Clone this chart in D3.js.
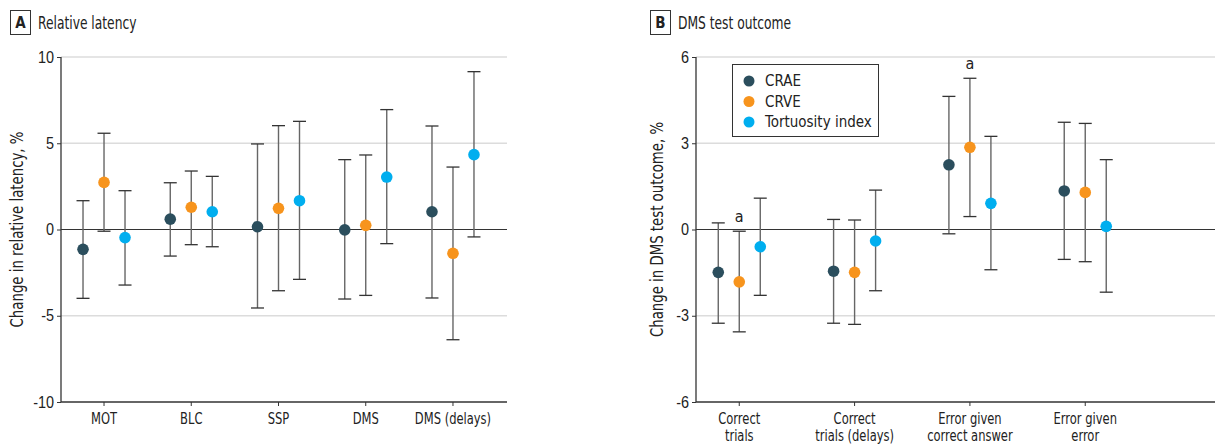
<!DOCTYPE html>
<html>
<head>
<meta charset="utf-8">
<script src="https://cdn.jsdelivr.net/npm/d3@7"></script>
<style>
	body { margin: 0; background: #fff; }
	svg { display: block; font-family: "DejaVu Sans Condensed", "Liberation Sans Narrow", "Roboto", sans-serif; }
</style>
</head>
<body>
<svg id="chart" width="1215" height="445"></svg>
<script>
// series names and colours
const seriesNames = ['CRAE', 'CRVE', 'Tortuosity index']
const seriesColors = ['#2b4e5d', '#f7941d', '#00aeef']

// Panel A: relative latency
const latencyCategories = ['MOT', 'BLC', 'SSP', 'DMS', 'DMS (delays)']
const latencyEstimate = [
	[-1.15, 0.6, 0.16, -0.02, 1.03],   // CRAE
	[2.73, 1.29, 1.23, 0.24, -1.38],   // CRVE
	[-0.47, 1.03, 1.67, 3.04, 4.34]    // Tortuosity index
]
const latencyLower = [
	[-3.99, -1.54, -4.55, -4.03, -3.97],
	[-0.1, -0.88, -3.55, -3.82, -6.39],
	[-3.22, -1.0, -2.89, -0.82, -0.43]
]
const latencyUpper = [
	[1.67, 2.71, 4.96, 4.05, 6.0],
	[5.58, 3.39, 6.02, 4.32, 3.62],
	[2.25, 3.08, 6.27, 6.95, 9.15]
]
const latencyTicks = [-10, -5, 0, 5, 10]

// Panel B: DMS test outcome
const dmsCategories = [
	['Correct', 'trials'],
	['Correct', 'trials (delays)'],
	['Error given', 'correct answer'],
	['Error given', 'error']
]
const dmsEstimate = [
	[-1.49, -1.45, 2.25, 1.34],
	[-1.82, -1.49, 2.86, 1.29],
	[-0.6, -0.4, 0.91, 0.11]
]
const dmsLower = [
	[-3.26, -3.26, -0.15, -1.04],
	[-3.56, -3.3, 0.45, -1.12],
	[-2.29, -2.13, -1.4, -2.18]
]
const dmsUpper = [
	[0.23, 0.35, 4.63, 3.73],
	[-0.06, 0.33, 5.26, 3.69],
	[1.09, 1.37, 3.24, 2.43]
]
const dmsTicks = [-6, -3, 0, 3, 6]
// significance markers: [category index, series index]
const dmsSignificant = [[0, 1], [2, 1]]

const svg = d3.select('#chart')

// squeeze text horizontally to mimic the narrow journal font
function condense(sel, factor) {
	sel.each(function () {
		const len = this.getComputedTextLength()
		if (len > 0) {
			d3.select(this)
				.attr('textLength', len * factor)
				.attr('lengthAdjust', 'spacingAndGlyphs')
		}
	})
}

function drawPanel(opts) {
	const g = svg.append('g')

	// panel letter + title
	g.append('rect')
		.attr('x', opts.boxX + 0.5).attr('y', 10.5)
		.attr('width', 20).attr('height', 24)
		.attr('fill', 'none').attr('stroke', '#333').attr('stroke-width', 1)
	g.append('text')
		.attr('x', opts.boxX + 10.5).attr('y', 28)
		.attr('text-anchor', 'middle')
		.attr('font-size', 15).attr('font-weight', 'bold').attr('fill', '#222')
		.text(opts.letter)
	g.append('text')
		.attr('x', opts.boxX + 28).attr('y', 29)
		.attr('font-size', 17.5).attr('fill', '#222')
		.text(opts.title)
		.call(condense, 0.78)

	const y = d3.scaleLinear().domain(opts.domain).range([402, 57])
	const x = d3.scaleBand()
		.domain(d3.range(opts.categories.length))
		.range(opts.bandRange)
	const offset = d3.scalePoint().domain([0, 1, 2]).range([-21, 21])

	// gridlines
	g.selectAll('.grid')
		.data(opts.ticks.filter(t => t !== 0 && t !== opts.domain[0]))
		.enter().append('line')
		.attr('x1', opts.left).attr('x2', opts.right)
		.attr('y1', d => y(d)).attr('y2', d => y(d))
		.attr('stroke', '#dcdcdc').attr('stroke-width', 1.3)

	// zero line
	g.append('line')
		.attr('x1', opts.left).attr('x2', opts.right)
		.attr('y1', y(0)).attr('y2', y(0))
		.attr('stroke', '#333').attr('stroke-width', 1.2)

	// bottom axis line
	g.append('line')
		.attr('x1', opts.left).attr('x2', opts.right)
		.attr('y1', y(opts.domain[0])).attr('y2', y(opts.domain[0]))
		.attr('stroke', '#333').attr('stroke-width', 1.3)

	// y axis
	const yAxis = d3.axisLeft(y).tickValues(opts.ticks).tickSize(4).tickPadding(3)
	const ya = g.append('g')
		.attr('transform', `translate(${opts.left},0)`)
		.call(yAxis)
	ya.select('.domain').attr('stroke', '#333').attr('stroke-width', 1.3)
		.attr('d', `M0,${y(opts.domain[1])}V${y(opts.domain[0])}`)
	ya.selectAll('.tick line').attr('stroke', '#333')
	ya.selectAll('.tick text')
		.attr('font-size', 16).attr('fill', '#222')
		.attr('font-family', 'inherit')
		.text(d => d < 0 ? '-' + Math.abs(d) : d)
		.call(condense, 0.9)

	// x ticks and labels
	const xt = g.selectAll('.xtick')
		.data(opts.categories)
		.enter().append('g')
		.attr('transform', (d, i) => `translate(${x(i) + x.bandwidth() / 2},${y(opts.domain[0])})`)
	xt.append('line').attr('y1', 0).attr('y2', 4).attr('stroke', '#333')
	xt.each(function (d) {
		const lines = Array.isArray(d) ? d : [d]
		const t = d3.select(this).append('text')
			.attr('text-anchor', 'middle')
			.attr('font-size', 16).attr('fill', '#222')
		lines.forEach((l, k) => {
			t.append('tspan').attr('x', 0).attr('y', 22 + k * 17).text(l)
		})
		t.selectAll('tspan').call(condense, 0.8)
	})

	// y axis title
	g.append('text')
		.attr('transform', `translate(${opts.titleX},${y(0)}) rotate(-90)`)
		.attr('text-anchor', 'middle')
		.attr('font-size', 17).attr('fill', '#222')
		.text(opts.yTitle)
		.call(condense, 0.87)

	// error bars + points
	opts.estimate.forEach((series, s) => {
		series.forEach((v, i) => {
			const cx = x(i) + x.bandwidth() / 2 + offset(s)
			const lo = opts.lower[s][i]
			const hi = opts.upper[s][i]
			g.append('line')
				.attr('x1', cx).attr('x2', cx)
				.attr('y1', y(lo)).attr('y2', y(hi))
				.attr('stroke', '#666').attr('stroke-width', 1.4)
			;[lo, hi].forEach(c => {
				g.append('line')
					.attr('x1', cx - 6.5).attr('x2', cx + 6.5)
					.attr('y1', y(c)).attr('y2', y(c))
					.attr('stroke', '#333').attr('stroke-width', 1.3)
			})
			g.append('circle')
				.attr('cx', cx).attr('cy', y(v)).attr('r', 5.8)
				.attr('fill', seriesColors[s])
		})
	})

	// significance markers
	;(opts.significant || []).forEach(([i, s]) => {
		const cx = x(i) + x.bandwidth() / 2 + offset(s)
		g.append('text')
			.attr('x', cx).attr('y', y(opts.upper[s][i]) - 9)
			.attr('text-anchor', 'middle')
			.attr('font-size', 16).attr('fill', '#222')
			.text('a')
	})

	return { g, x, y }
}

drawPanel({
	letter: 'A', title: 'Relative latency', boxX: 10,
	left: 61, right: 507, bandRange: [60.4, 496.6],
	domain: [-10, 10], ticks: latencyTicks,
	categories: latencyCategories,
	estimate: latencyEstimate, lower: latencyLower, upper: latencyUpper,
	yTitle: 'Change in relative latency, %', titleX: 22.5
})

const panelB = drawPanel({
	letter: 'B', title: 'DMS test outcome', boxX: 650,
	left: 696, right: 1215, bandRange: [681.6, 1142.9],
	domain: [-6, 6], ticks: dmsTicks,
	categories: dmsCategories,
	estimate: dmsEstimate, lower: dmsLower, upper: dmsUpper,
	yTitle: 'Change in DMS test outcome, %', titleX: 663,
	significant: dmsSignificant
})

// legend
const legend = panelB.g.append('g')
legend.append('rect')
	.attr('x', 732.5).attr('y', 64.5)
	.attr('width', 146).attr('height', 72)
	.attr('fill', '#fff').attr('stroke', '#333').attr('stroke-width', 1)
seriesNames.forEach((name, s) => {
	legend.append('circle')
		.attr('cx', 749).attr('cy', 81 + s * 20.5).attr('r', 5.5)
		.attr('fill', seriesColors[s])
	legend.append('text')
		.attr('x', 765).attr('y', 86 + s * 20.5)
		.attr('font-size', 15).attr('fill', '#222')
		.text(name)
})
</script>
</body>
</html>
